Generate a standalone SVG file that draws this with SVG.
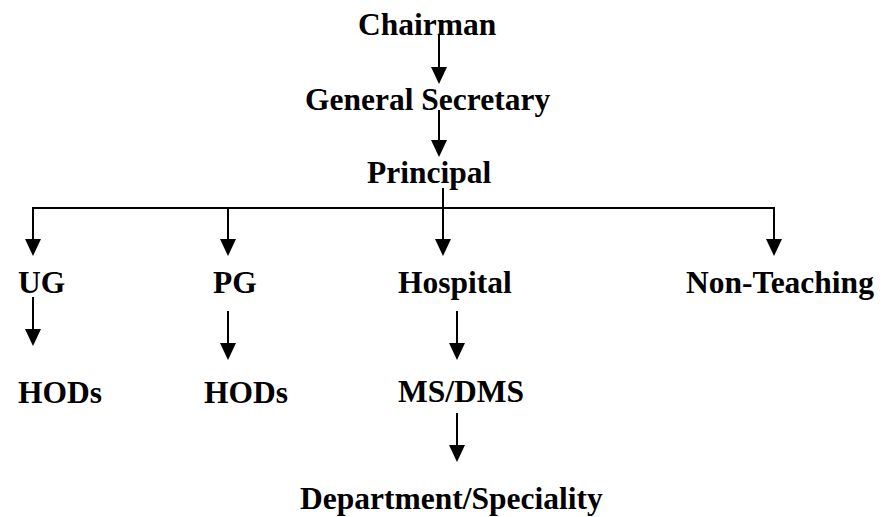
<svg xmlns="http://www.w3.org/2000/svg" width="882" height="517" viewBox="0 0 882 517">
<style>
text{font-family:"Liberation Serif","Times New Roman",serif;font-weight:bold;font-size:31.5px;fill:#000}
.c line,.c path{stroke:#000;stroke-width:2;fill:none}
</style>
<defs>
<marker id="ah" markerUnits="userSpaceOnUse" markerWidth="20" markerHeight="18" refX="1" refY="8" orient="auto" overflow="visible">
<path d="M0,0 L17,8 L0,16 Z" fill="#000" stroke="none"/>
</marker>
</defs>
<rect width="882" height="517" fill="#fff"/>
<g id="connectors" class="c">
<line x1="439" y1="35" x2="439" y2="68" marker-end="url(#ah)"/>
<line x1="439" y1="110" x2="439" y2="141" marker-end="url(#ah)"/>
<line x1="443" y1="188" x2="443" y2="240" marker-end="url(#ah)"/>
<line x1="33" y1="208" x2="774" y2="208"/>
<line x1="33" y1="207" x2="33" y2="240" marker-end="url(#ah)"/>
<line x1="228" y1="208" x2="228" y2="240" marker-end="url(#ah)"/>
<line x1="774" y1="207" x2="774" y2="240" marker-end="url(#ah)"/>
<line x1="33" y1="297" x2="33" y2="330" marker-end="url(#ah)"/>
<line x1="228" y1="311" x2="228" y2="344" marker-end="url(#ah)"/>
<line x1="457" y1="311" x2="457" y2="344" marker-end="url(#ah)"/>
<line x1="457" y1="413" x2="457" y2="446" marker-end="url(#ah)"/>
</g>
<g id="chairman"><text x="358" y="35">Chairman</text></g>
<g id="general-secretary"><text x="305" y="110">General Secretary</text></g>
<g id="principal"><text x="367" y="183">Principal</text></g>
<g id="ug"><text x="18" y="293">UG</text></g>
<g id="pg"><text x="213" y="293">PG</text></g>
<g id="hospital"><text x="398" y="293">Hospital</text></g>
<g id="non-teaching"><text x="686" y="293">Non-Teaching</text></g>
<g id="hods-ug"><text x="18" y="403">HODs</text></g>
<g id="hods-pg"><text x="204" y="403">HODs</text></g>
<g id="ms-dms"><text x="398" y="402">MS/DMS</text></g>
<g id="department"><text x="300" y="509">Department/Speciality</text></g>
</svg>
